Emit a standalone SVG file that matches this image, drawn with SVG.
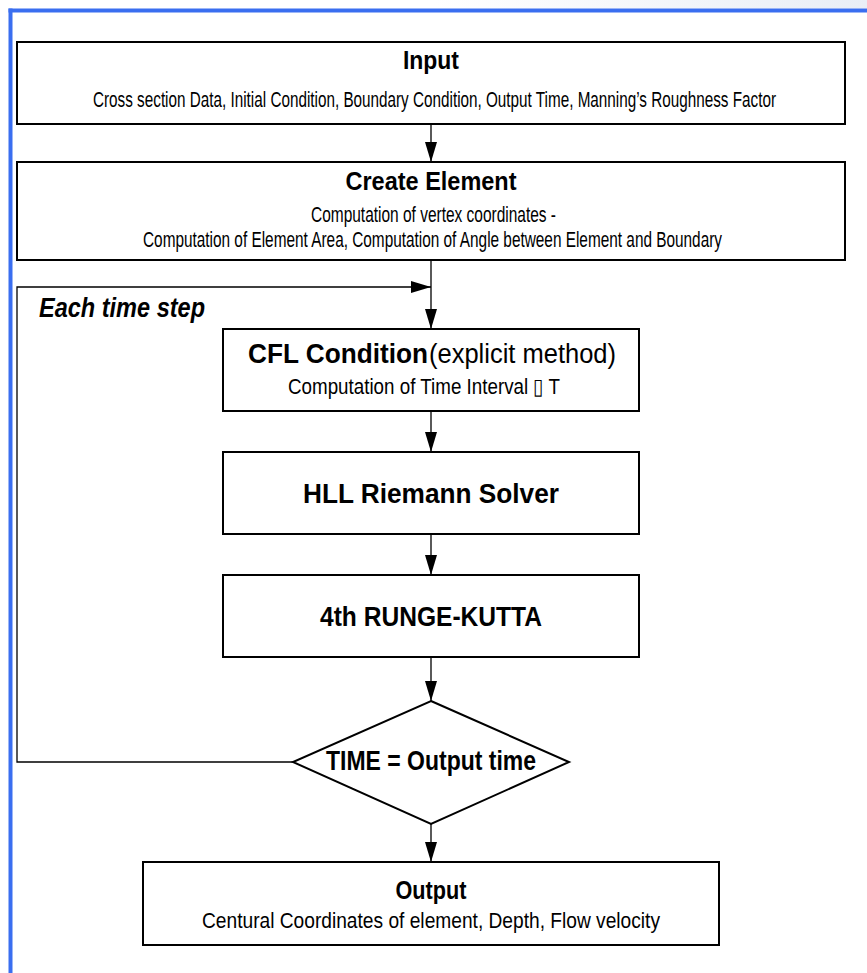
<svg xmlns="http://www.w3.org/2000/svg" width="867" height="973" viewBox="0 0 867 973">
<defs>
<linearGradient id="topfade" x1="0" y1="0" x2="1" y2="0">
<stop offset="0" stop-color="#ffffff"/>
<stop offset="0.5" stop-color="#ffffff"/>
<stop offset="1" stop-color="#e9eef6"/>
</linearGradient>
<marker id="arrow" viewBox="0 0 20 12" refX="20" refY="6" markerWidth="20" markerHeight="12" markerUnits="userSpaceOnUse" orient="auto">
<path d="M0,0 L20,6 L0,12 Z" fill="#000"/>
</marker>
<style>
.box{fill:#fff;stroke:#000;stroke-width:2}
.conn{fill:none;stroke:#000;stroke-width:1.3}
.t{font-family:"Liberation Sans",Arial,sans-serif;fill:#000}
.b{font-weight:bold}
.title{font-size:25px;font-weight:bold}
.big{font-size:27px}
.sub{font-size:22px}
</style>
</defs>
<rect x="0" y="0" width="867" height="973" fill="#fff"/>
<rect x="0" y="0" width="867" height="8.5" fill="url(#topfade)"/>
<g id="frame">
<rect x="8.5" y="8.5" width="858.5" height="4" fill="#3a6ef0"/>
<rect x="8.5" y="8.5" width="4" height="964.5" fill="#3a6ef0"/>
</g>
<g id="connectors">
<line class="conn" x1="431" y1="124" x2="431" y2="162" marker-end="url(#arrow)"/>
<line class="conn" x1="431" y1="260" x2="431" y2="329" marker-end="url(#arrow)"/>
<polyline class="conn" points="293,762 17,762 17,287 431,287" marker-end="url(#arrow)"/>
<line class="conn" x1="431" y1="411" x2="431" y2="452" marker-end="url(#arrow)"/>
<line class="conn" x1="431" y1="534" x2="431" y2="575" marker-end="url(#arrow)"/>
<line class="conn" x1="431" y1="657" x2="431" y2="701" marker-end="url(#arrow)"/>
<line class="conn" x1="431" y1="824" x2="431" y2="862" marker-end="url(#arrow)"/>
</g>
<g id="input">
<rect class="box" x="17" y="42" width="828" height="82"/>
<text class="t title" x="431" y="69" text-anchor="middle" font-size="24" textLength="56" lengthAdjust="spacingAndGlyphs">Input</text>
<text class="t sub" x="93" y="107" textLength="683" lengthAdjust="spacingAndGlyphs">Cross section Data, Initial Condition, Boundary Condition, Output Time,  Manning’s Roughness Factor</text>
</g>
<g id="create-element">
<rect class="box" x="17" y="162" width="828" height="98"/>
<text class="t title" x="431" y="190" text-anchor="middle" textLength="171" lengthAdjust="spacingAndGlyphs">Create Element</text>
<text class="t sub" x="311" y="222" textLength="245" lengthAdjust="spacingAndGlyphs">Computation of vertex coordinates -</text>
<text class="t sub" x="143" y="247" textLength="579" lengthAdjust="spacingAndGlyphs">Computation of Element Area, Computation of Angle between Element and Boundary</text>
</g>
<g id="loop-label">
<text class="t big b" x="39" y="317" font-style="italic" textLength="166" lengthAdjust="spacingAndGlyphs">Each time step</text>
</g>
<g id="cfl">
<rect class="box" x="223" y="329" width="416" height="82"/>
<text class="t big b" x="248" y="363" textLength="180" lengthAdjust="spacingAndGlyphs">CFL Condition</text>
<text class="t big" x="429" y="363" textLength="187" lengthAdjust="spacingAndGlyphs">(explicit method)</text>
<text class="t sub" x="288" y="394" textLength="272" lengthAdjust="spacingAndGlyphs">Computation of Time Interval ▯ T</text>
</g>
<g id="hll">
<rect class="box" x="223" y="452" width="416" height="82"/>
<text class="t big b" x="431" y="503" text-anchor="middle" textLength="256" lengthAdjust="spacingAndGlyphs">HLL Riemann Solver</text>
</g>
<g id="runge-kutta">
<rect class="box" x="223" y="575" width="416" height="82"/>
<text class="t big b" x="431" y="626" text-anchor="middle" textLength="222" lengthAdjust="spacingAndGlyphs">4th RUNGE-KUTTA</text>
</g>
<g id="decision">
<polygon class="box" points="431,701 569,762 431,824 293,762"/>
<text class="t big b" x="326" y="770" textLength="210" lengthAdjust="spacingAndGlyphs">TIME = Output time</text>
</g>
<g id="output">
<rect class="box" x="143" y="862" width="576" height="83"/>
<text class="t title" x="431" y="899" text-anchor="middle" textLength="71" lengthAdjust="spacingAndGlyphs">Output</text>
<text class="t sub" x="202" y="928" textLength="458" lengthAdjust="spacingAndGlyphs">Centural Coordinates of element, Depth, Flow velocity</text>
</g>
</svg>
